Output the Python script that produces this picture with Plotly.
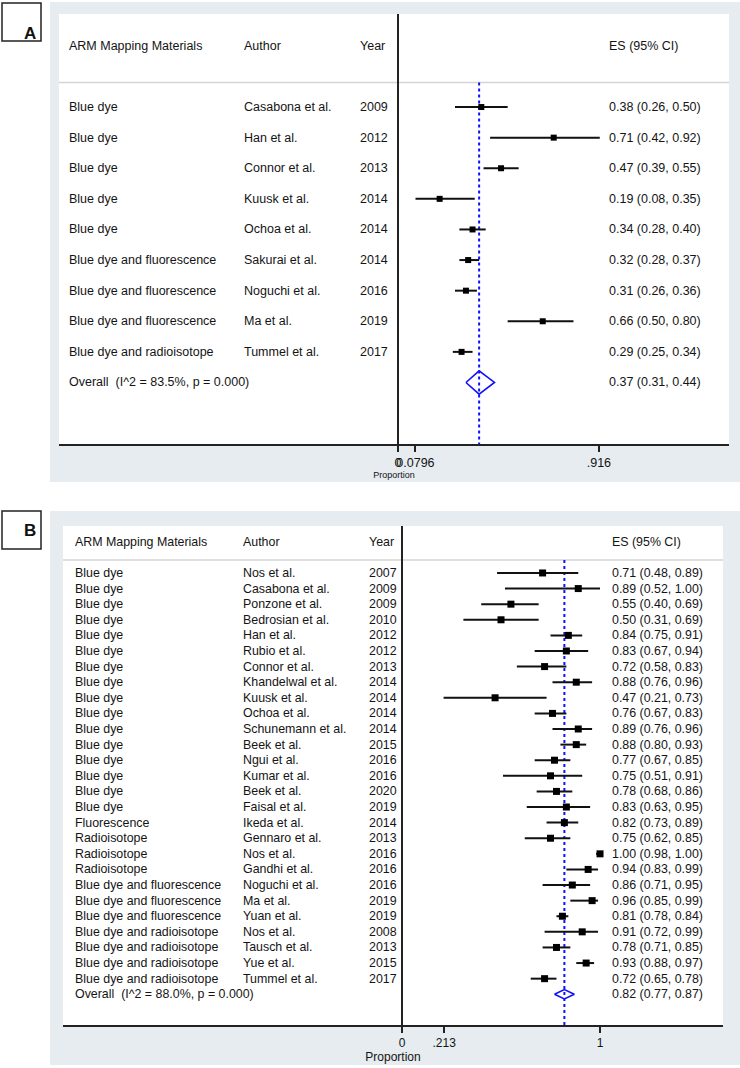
import plotly.graph_objects as go

# ---------------- Panel A data ----------------
a_material = ["Blue dye", "Blue dye", "Blue dye", "Blue dye", "Blue dye",
              "Blue dye and fluorescence", "Blue dye and fluorescence",
              "Blue dye and fluorescence", "Blue dye and radioisotope"]
a_author = ["Casabona et al.", "Han et al.", "Connor et al.", "Kuusk et al.", "Ochoa et al.",
            "Sakurai et al.", "Noguchi et al.", "Ma et al.", "Tummel et al."]
a_year = [2009, 2012, 2013, 2014, 2014, 2014, 2016, 2019, 2017]
a_es = [0.38, 0.71, 0.47, 0.19, 0.34, 0.32, 0.31, 0.66, 0.29]
a_lo = [0.26, 0.42, 0.39, 0.08, 0.28, 0.28, 0.26, 0.50, 0.25]
a_hi = [0.50, 0.92, 0.55, 0.35, 0.40, 0.37, 0.36, 0.80, 0.34]
a_overall = [0.37, 0.31, 0.44]
a_i2, a_p = 83.5, 0.000
a_tickvals = [0, 0.0796, 0.916]
a_ticktext = ["0", "0.0796", ".916"]

# ---------------- Panel B data ----------------
b_material = ["Blue dye"] * 16 + ["Fluorescence"] + ["Radioisotope"] * 3 + \
             ["Blue dye and fluorescence"] * 3 + ["Blue dye and radioisotope"] * 4
b_author = ["Nos et al.", "Casabona et al.", "Ponzone et al.", "Bedrosian et al.", "Han et al.",
            "Rubio et al.", "Connor et al.", "Khandelwal et al.", "Kuusk et al.", "Ochoa et al.",
            "Schunemann et al.", "Beek et al.", "Ngui et al.", "Kumar et al.", "Beek et al.",
            "Faisal et al.", "Ikeda et al.", "Gennaro et al.", "Nos et al.", "Gandhi et al.",
            "Noguchi et al.", "Ma et al.", "Yuan et al.", "Nos et al.", "Tausch et al.",
            "Yue et al.", "Tummel et al."]
b_year = [2007, 2009, 2009, 2010, 2012, 2012, 2013, 2014, 2014, 2014, 2014, 2015, 2016, 2016,
          2020, 2019, 2014, 2013, 2016, 2016, 2016, 2019, 2019, 2008, 2013, 2015, 2017]
b_es = [0.71, 0.89, 0.55, 0.50, 0.84, 0.83, 0.72, 0.88, 0.47, 0.76, 0.89, 0.88, 0.77, 0.75,
        0.78, 0.83, 0.82, 0.75, 1.00, 0.94, 0.86, 0.96, 0.81, 0.91, 0.78, 0.93, 0.72]
b_lo = [0.48, 0.52, 0.40, 0.31, 0.75, 0.67, 0.58, 0.76, 0.21, 0.67, 0.76, 0.80, 0.67, 0.51,
        0.68, 0.63, 0.73, 0.62, 0.98, 0.83, 0.71, 0.85, 0.78, 0.72, 0.71, 0.88, 0.65]
b_hi = [0.89, 1.00, 0.69, 0.69, 0.91, 0.94, 0.83, 0.96, 0.73, 0.83, 0.96, 0.93, 0.85, 0.91,
        0.86, 0.95, 0.89, 0.85, 1.00, 0.99, 0.95, 0.99, 0.84, 0.99, 0.85, 0.97, 0.78]
b_overall = [0.82, 0.77, 0.87]
b_i2, b_p = 88.0, 0.000
b_tickvals = [0, 0.213, 1]
b_ticktext = ["0", ".213", "1"]

# ---------------- layout helpers ----------------
W, H = 740, 1068
FONT = "Liberation Sans, Arial, sans-serif"
TXT = "#141414"
GRAY_BG = "#e6ecef"


def fx(p):
    return p / W


def fy(p):
    return 1 - p / H


fig = go.Figure()
annotations = []
shapes = []


def panel(xr, yr, material, author, year, es, lo, hi, overall, i2, p,
          col_x, ymax, sq, fsize, diam_h, header_line):
    n = len(es)
    rows = list(range(1, n + 1))
    orow = n + 1
    # dashed overall line
    fig.add_trace(go.Scatter(x=[overall[0], overall[0]], y=[header_line, ymax],
                             mode="lines", xaxis=xr, yaxis=yr, hoverinfo="skip",
                             line=dict(color="#1010ff", width=2, dash="3px,3px")))
    # studies
    fig.add_trace(go.Scatter(
        x=es, y=rows, mode="markers", xaxis=xr, yaxis=yr,
        marker=dict(symbol="square", size=sq, color="black"),
        error_x=dict(type="data", symmetric=False,
                     array=[h - e for h, e in zip(hi, es)],
                     arrayminus=[e - l for e, l in zip(es, lo)],
                     color="#111111", thickness=2, width=0)))
    # diamond
    fig.add_trace(go.Scatter(
        x=[overall[1], overall[0], overall[2], overall[0], overall[1]],
        y=[orow, orow - diam_h, orow, orow + diam_h, orow],
        mode="lines", xaxis=xr, yaxis=yr, hoverinfo="skip",
        line=dict(color="#1010ff", width=1.6)))
    cm, ca, cy, ce = col_x
    f = dict(family=FONT, size=fsize, color=TXT)
    for txt, x in [("ARM Mapping Materials", cm), ("Author", ca), ("Year", cy), ("ES (95% CI)", ce)]:
        annotations.append(dict(x=x, y=-1, xref=xr, yref=yr, text=txt, showarrow=False,
                                xanchor="left", yanchor="middle", font=f))
    for i in range(n):
        for txt, x in [(material[i], cm), (author[i], ca), (str(year[i]), cy),
                       (f"{es[i]:.2f} ({lo[i]:.2f}, {hi[i]:.2f})", ce)]:
            annotations.append(dict(x=x, y=rows[i], xref=xr, yref=yr, text=txt, showarrow=False,
                                    xanchor="left", yanchor="middle", font=f))
    annotations.append(dict(x=cm, y=orow, xref=xr, yref=yr,
                            text=f"Overall  (I^2 = {i2:.1f}%, p = {p:.3f})", showarrow=False,
                            xanchor="left", yanchor="middle", font=f))
    annotations.append(dict(x=ce, y=orow, xref=xr, yref=yr,
                            text=f"{overall[0]:.2f} ({overall[1]:.2f}, {overall[2]:.2f})",
                            showarrow=False, xanchor="left", yanchor="middle", font=f))
    shapes.append(dict(type="line", xref=f"{xr} domain", yref=yr, x0=0, x1=1,
                       y0=header_line, y1=header_line, line=dict(color="#d4d4d4", width=1.5),
                       layer="below"))


shapes += [
    dict(type="rect", xref="paper", yref="paper", x0=fx(50), x1=fx(740), y0=fy(482), y1=fy(2),
         fillcolor=GRAY_BG, line=dict(width=0), layer="below"),
    dict(type="rect", xref="paper", yref="paper", x0=fx(59), x1=fx(729), y0=fy(444), y1=fy(14),
         fillcolor="white", line=dict(width=0), layer="below"),
    dict(type="rect", xref="paper", yref="paper", x0=fx(50), x1=fx(740), y0=fy(1065), y1=fy(511),
         fillcolor=GRAY_BG, line=dict(width=0), layer="below"),
    dict(type="rect", xref="paper", yref="paper", x0=fx(63), x1=fx(723), y0=fy(1025), y1=fy(526),
         fillcolor="white", line=dict(width=0), layer="below"),
    dict(type="rect", xref="paper", yref="paper", x0=fx(2), x1=fx(41), y0=fy(41), y1=fy(3),
         fillcolor="white", line=dict(color="#222222", width=1.5)),
    dict(type="rect", xref="paper", yref="paper", x0=fx(2), x1=fx(41), y0=fy(549), y1=fy(511),
         fillcolor="white", line=dict(color="#222222", width=1.5)),
]
annotations += [
    dict(x=fx(21.5), y=fy(22), xref="paper", yref="paper", text="<b>A</b>", showarrow=False,
         font=dict(family=FONT, size=17, color="#111111")),
    dict(x=fx(21.5), y=fy(530), xref="paper", yref="paper", text="<b>B</b>", showarrow=False,
         font=dict(family=FONT, size=17, color="#111111")),
]

panel("x", "y", a_material, a_author, a_year, a_es, a_lo, a_hi, a_overall, a_i2, a_p,
      col_x=(-1.509, -0.711, -0.182, 0.953), ymax=12.01, sq=6, fsize=12.5, diam_h=0.38,
      header_line=0.2)
panel("x2", "y2", b_material, b_author, b_year, b_es, b_lo, b_hi, b_overall, b_i2, b_p,
      col_x=(-1.662, -0.813, -0.177, 1.051), ymax=29.97, sq=7, fsize=12.4, diam_h=0.3,
      header_line=0.17)

axis_common = dict(showgrid=False, showline=True, linecolor="#222222", linewidth=1.5,
                   ticks="outside", ticklen=6, tickwidth=1.5, tickcolor="#222222",
                   zeroline=True, zerolinecolor="#222222", zerolinewidth=2,
                   tickangle=0, automargin=False, fixedrange=True)

fig.update_layout(
    width=W, height=H,
    margin=dict(l=0, r=0, t=0, b=0),
    paper_bgcolor="white", plot_bgcolor="rgba(0,0,0,0)",
    showlegend=False,
    xaxis=dict(domain=[fx(59), fx(729)], range=[-1.545, 1.509], anchor="y",
               tickvals=a_tickvals, ticktext=a_ticktext,
               tickfont=dict(family=FONT, size=12.5, color=TXT),
               title=dict(text="Proportion", font=dict(family=FONT, size=9, color=TXT), standoff=0),
               **axis_common),
    yaxis=dict(domain=[fy(444), fy(14)], range=[12.01, -2.04], anchor="x",
               visible=False, fixedrange=True),
    xaxis2=dict(domain=[fx(63), fx(723)], range=[-1.712, 1.621], anchor="y2",
                tickvals=b_tickvals, ticktext=b_ticktext,
                tickfont=dict(family=FONT, size=12, color=TXT),
                title=dict(text="Proportion", font=dict(family=FONT, size=12, color=TXT), standoff=0),
                **axis_common),
    yaxis2=dict(domain=[fy(1025), fy(526)], range=[29.97, -2.01], anchor="x2",
                visible=False, fixedrange=True),
    annotations=annotations,
    shapes=shapes,
)

fig.write_html("out.html", config={"displayModeBar": False},
               post_script="document.body.style.margin='0';")
